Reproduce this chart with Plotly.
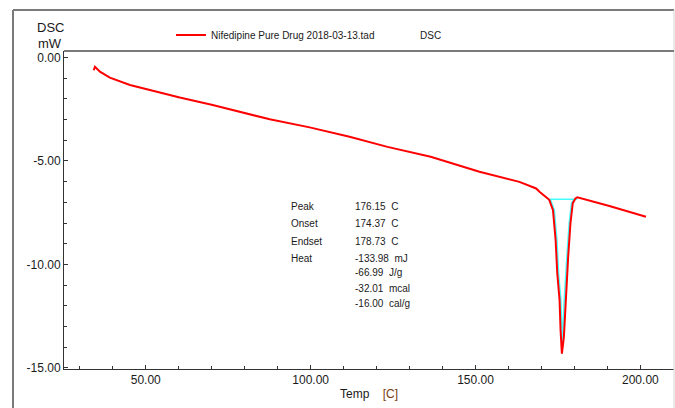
import plotly.graph_objects as go

# ---- data ----
temp = [34.2, 34.6, 36.1, 39.1, 45.2, 51.2, 60.3, 70.3, 77.9, 87.6, 99.7, 111.8, 123.3,
        136.4, 151.2, 163.3, 168.4, 169.4, 171.9, 172.4, 173.5, 174.3, 174.8, 175.5,
        175.8, 176.2, 176.8, 177.3, 178.1, 178.8, 179.5, 180.3, 180.9, 190.6, 201.7]
dsc = [-0.62, -0.45, -0.69, -0.98, -1.33, -1.57, -1.94, -2.30, -2.59, -2.99, -3.38, -3.83,
       -4.32, -4.80, -5.52, -6.01, -6.33, -6.49, -6.81, -6.89, -7.38, -8.83, -10.43, -11.73,
       -13.18, -14.31, -13.51, -11.73, -9.64, -8.01, -7.04, -6.81, -6.76, -7.18, -7.70]

baseline_start = 171.9
baseline_end = 180.9
baseline_level = -6.85
peak_temp = 176.2

x_tickvals = [50, 100, 150, 200]
x_ticktext = ["50.00", "100.00", "150.00", "200.00"]
y_tickvals = [0, -5, -10, -15]
y_ticktext = ["0.00", "-5.00", "-10.00", "-15.00"]

stat_labels = ["Peak", "Onset", "Endset", "Heat"]
stat_values = ["176.15  C", "174.37  C", "178.73  C", "-133.98  mJ",
               "-66.99  J/g", "-32.01  mcal", "-16.00  cal/g"]

series_name = "Nifedipine Pure Drug 2018-03-13.tad"

# ---- layout geometry ----
W, H = 675, 408
L, R, T, B = 64, 674, 51, 369
PW, PH = R - L, B - T


def px2x(px):
    return (px - L) / PW


def px2y(py):
    return (B - py) / PH


FONT = "Liberation Sans, Arial, sans-serif"

# cyan integration outline (peak region, slightly inset, closed by the baseline)
cx, cy = [], []
for t, v in zip(temp, dsc):
    if baseline_start <= t <= baseline_end:
        off = 0.4 if t < peak_temp else (-0.4 if t > peak_temp else 0)
        cx.append(t + off)
        cy.append(min(v, baseline_level))
cx = [baseline_start] + cx + [baseline_end, baseline_start]
cy = [baseline_level] + cy + [baseline_level, baseline_level]

fig = go.Figure()
fig.add_trace(go.Scatter(x=cx, y=cy, mode="lines", line=dict(color="#44ffff", width=1.5),
                         showlegend=False, hoverinfo="skip"))
fig.add_trace(go.Scatter(x=temp, y=dsc, mode="lines", name=series_name,
                         line=dict(color="#ff0000", width=2)))

fig.update_layout(
    width=W, height=H,
    margin=dict(l=L, r=W - R, t=T, b=H - B, pad=0),
    paper_bgcolor="white", plot_bgcolor="white",
    font=dict(family=FONT, size=12, color="#1a1a1a"),
    showlegend=True,
    legend=dict(orientation="h", x=px2x(171), y=px2y(35), xanchor="left", yanchor="middle",
                font=dict(size=10, family=FONT), bgcolor="rgba(0,0,0,0)", borderwidth=0,
                itemwidth=30),
    xaxis=dict(range=[25.2, 210.2], showgrid=False, zeroline=False,
               showline=True, linecolor="#333333", linewidth=1,
               tickmode="array", tickvals=x_tickvals, ticktext=x_ticktext,
               ticks="inside", ticklen=4, tickcolor="#333333",
               minor=dict(dtick=10, tick0=0, ticks="inside", ticklen=3, tickcolor="#333333"),
               tickfont=dict(size=12, family=FONT, color="#1a1a1a"),
               title=dict(text="Temp    <span style='color:#7a3c10'>[C]</span>",
                          font=dict(size=12, family=FONT), standoff=3)),
    yaxis=dict(range=[-15.05, 0.31], showgrid=False, zeroline=False,
               showline=True, linecolor="#333333", linewidth=1,
               tickmode="array", tickvals=y_tickvals, ticktext=y_ticktext,
               ticks="inside", ticklen=4, tickcolor="#333333",
               minor=dict(dtick=1, tick0=0, ticks="inside", ticklen=3, tickcolor="#333333"),
               tickfont=dict(size=12, family=FONT, color="#1a1a1a")),
)

shapes = [
    # outer frame
    dict(type="line", xref="paper", yref="paper", x0=px2x(13), x1=px2x(674), y0=px2y(10), y1=px2y(10),
         line=dict(color="#7a7a7a", width=2)),
    dict(type="line", xref="paper", yref="paper", x0=px2x(13), x1=px2x(13), y0=px2y(10), y1=px2y(408),
         line=dict(color="#7a7a7a", width=2)),
    dict(type="line", xref="paper", yref="paper", x0=px2x(674), x1=px2x(674), y0=px2y(10), y1=px2y(408),
         line=dict(color="#d4d4d4", width=1)),
    # plot top border
    dict(type="line", xref="paper", yref="paper", x0=0, x1=px2x(674), y0=1, y1=1,
         line=dict(color="#7a7a7a", width=2)),
]
fig.update_layout(shapes=shapes)

ann = []
ann.append(dict(text="DSC", x=px2x(50), y=px2y(28), xref="paper", yref="paper",
                showarrow=False, xanchor="center", yanchor="middle", font=dict(size=13)))
ann.append(dict(text="mW", x=px2x(50), y=px2y(44), xref="paper", yref="paper",
                showarrow=False, xanchor="center", yanchor="middle", font=dict(size=13)))
ann.append(dict(text="DSC", x=px2x(418), y=px2y(35), xref="paper", yref="paper",
                showarrow=False, xanchor="left", yanchor="middle", font=dict(size=10)))

label_rows = [206, 223, 241, 258]
value_rows = [206, 223, 241, 258, 272, 288, 303]
for lab, py in zip(stat_labels, label_rows):
    ann.append(dict(text=lab, x=px2x(289), y=px2y(py), xref="paper", yref="paper",
                    showarrow=False, xanchor="left", yanchor="middle", font=dict(size=10)))
for val, py in zip(stat_values, value_rows):
    ann.append(dict(text=val, x=px2x(353), y=px2y(py), xref="paper", yref="paper",
                    showarrow=False, xanchor="left", yanchor="middle", font=dict(size=10)))
fig.update_layout(annotations=ann)

fig.write_html("out.html")
